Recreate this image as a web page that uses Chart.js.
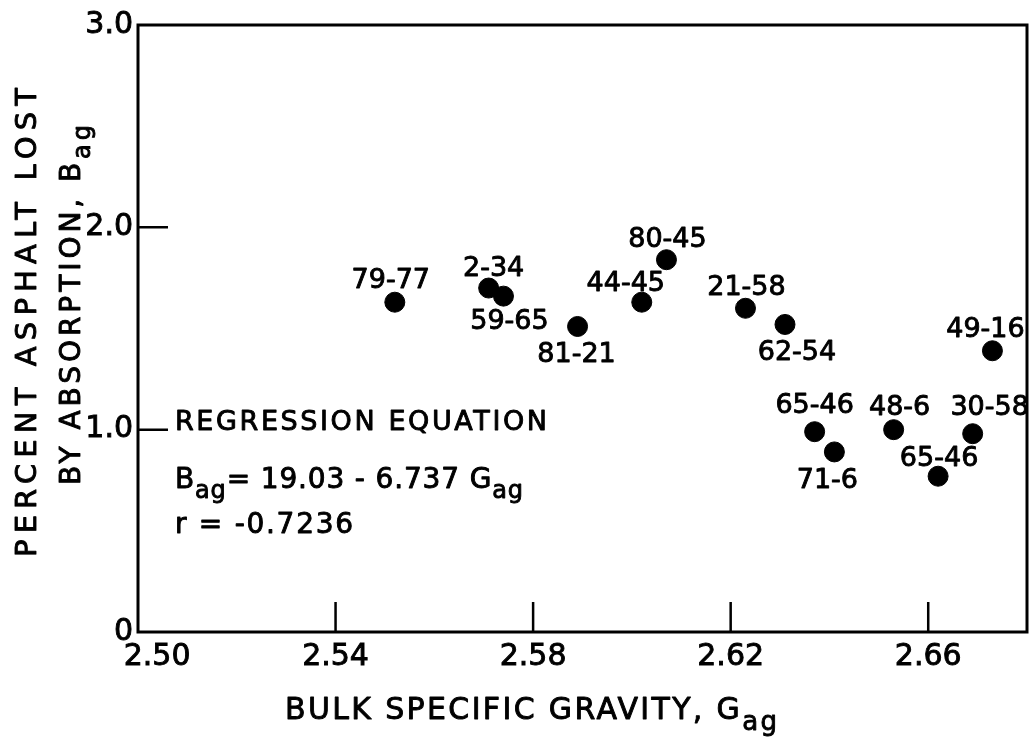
<!DOCTYPE html>
<html>
<head>
<meta charset="utf-8">
<script src="https://cdn.jsdelivr.net/npm/chart.js@4"></script>
<style>
html, body { margin: 0; padding: 0; background: #fff; overflow: hidden; }
canvas { display: block; }
</style>
</head>
<body>
<canvas id="js--chart" width="1029" height="740"></canvas>
<script>
const sampleIds = ["79-77", "2-34", "59-65", "81-21", "44-45", "80-45", "21-58", "62-54", "49-16", "65-46", "71-6", "48-6", "30-58", "65-46"];
const gravity = [2.552, 2.571, 2.574, 2.589, 2.602, 2.607, 2.623, 2.631, 2.673, 2.637, 2.641, 2.653, 2.669, 2.662];
const absorption = [1.63, 1.70, 1.66, 1.51, 1.63, 1.84, 1.60, 1.52, 1.39, 0.99, 0.89, 1.00, 0.98, 0.77];
const xTicks = [2.50, 2.54, 2.58, 2.62, 2.66];
const yTicks = [0, 1, 2, 3];

// where each sample id sits relative to its dot (px)
const labelShift = [[-4, -24], [5, -22], [6, 23], [-1, 26], [-16, -21], [1, -23], [1, -23], [12, 26], [-7, -24], [0, -29], [-7, 26], [6, -25], [17, -29], [1, -20]];

const FONT = '"DejaVu Sans", sans-serif';

// text with subscript parts, stretched to a given width
function rich(ctx, parts, x, y, size, width) {
    const subSize = Math.round(size * 0.85);
    const fontOf = sub => (sub ? subSize : size) + 'px ' + FONT;
    ctx.letterSpacing = '0px';
    let natural = 0, chars = 0;
    parts.forEach(([t, sub]) => {
        ctx.font = fontOf(sub);
        natural += ctx.measureText(t).width;
        chars += t.length;
    });
    const gap = width ? (width - natural) / (chars - 1) : 0;
    let cx = x;
    parts.forEach(([t, sub]) => {
        ctx.font = fontOf(sub);
        ctx.letterSpacing = '0px';
        const w = ctx.measureText(t).width;
        ctx.letterSpacing = gap + 'px';
        const ty = sub ? y + size * 0.35 : y;
        ctx.fillText(t, cx, ty);
        ctx.strokeText(t, cx, ty);
        cx += w + gap * t.length;
    });
    ctx.letterSpacing = '0px';
}

const extras = {
    id: 'extras',
    afterDraw(chart) {
        const ctx = chart.ctx;
        const a = chart.chartArea;
        const xs = chart.scales.x, ys = chart.scales.y;
        ctx.save();
        ctx.strokeStyle = '#000';
        ctx.fillStyle = '#000';
        ctx.lineWidth = 3;
        ctx.strokeRect(a.left, a.top, a.right - a.left, a.bottom - a.top);

        // ticks point inwards
        ctx.lineWidth = 2.5;
        ctx.beginPath();
        xTicks.forEach(v => {
            if (v <= xs.min || v >= xs.max) return;
            const px = xs.getPixelForValue(v);
            ctx.moveTo(px, a.bottom);
            ctx.lineTo(px, a.bottom - 30);
        });
        yTicks.forEach(v => {
            if (v <= ys.min || v >= ys.max) return;
            const py = ys.getPixelForValue(v);
            ctx.moveTo(a.left, py);
            ctx.lineTo(a.left + 30, py);
        });
        ctx.stroke();

        // sample ids
        ctx.lineWidth = 0.9;
        ctx.lineJoin = 'round';
        ctx.font = '27px ' + FONT;
        ctx.textAlign = 'center';
        ctx.textBaseline = 'alphabetic';
        chart.getDatasetMeta(0).data.forEach((p, i) => {
            const tx = p.x + labelShift[i][0];
            const ty = p.y + labelShift[i][1] + 27 * 0.365;
            ctx.fillText(sampleIds[i], tx, ty);
            ctx.strokeText(sampleIds[i], tx, ty);
        });
        ctx.textAlign = 'left';

        // axis titles
        rich(ctx, [['BULK SPECIFIC GRAVITY, G'], ['ag', 1]], 285, 719, 30, 492);
        ctx.save();
        ctx.translate(36, 557);
        ctx.rotate(-Math.PI / 2);
        rich(ctx, [['PERCENT ASPHALT LOST']], 0, 0, 29, 469);
        ctx.restore();
        ctx.save();
        ctx.translate(80, 485);
        ctx.rotate(-Math.PI / 2);
        rich(ctx, [['BY ABSORPTION, B'], ['ag', 1]], 0, 0, 28, 360);
        ctx.restore();

        // regression note
        rich(ctx, [['REGRESSION EQUATION']], 175, 430, 27, 372);
        rich(ctx, [['B'], ['ag', 1], ['= 19.03 - 6.737 G'], ['ag', 1]], 175, 488, 28, 348);
        rich(ctx, [['r = -0.7236']], 175, 533, 28, 178);
        ctx.restore();
    }
};

const points = gravity.map(function (g, i) {
    return { x: g, y: absorption[i] };
});

const tickFont = { family: FONT, size: 30 };

const config = {
    type: 'scatter',
    data: {
        datasets: [{
            data: points,
            backgroundColor: '#000',
            borderColor: '#000',
            pointRadius: 10,
            pointHoverRadius: 10
        }]
    },
    options: {
        responsive: false,
        animation: false,
        events: [],
        layout: { autoPadding: false, padding: { left: 0, top: 25, right: 2, bottom: 0 } },
        plugins: { legend: { display: false }, tooltip: { enabled: false } },
        scales: {
            x: {
                type: 'linear',
                min: 2.50,
                max: 2.68,
                grid: { display: false, drawTicks: false },
                border: { display: false },
                afterBuildTicks: s => { s.ticks = xTicks.map(v => ({ value: v })); },
                afterFit: s => { s.height = 108; s.paddingLeft = 0; s.paddingRight = 0; },
                ticks: {
                    autoSkip: false,
                    maxRotation: 0,
                    padding: 7,
                    color: '#000',
                    textStrokeColor: '#000',
                    textStrokeWidth: 0.9,
                    font: tickFont,
                    callback: v => (v === 2.5 ? '\u2007\u2007' : '') + v.toFixed(2)
                }
            },
            y: {
                type: 'linear',
                min: 0,
                max: 3,
                grid: { display: false, drawTicks: false },
                border: { display: false },
                afterBuildTicks: s => { s.ticks = yTicks.map(v => ({ value: v })); },
                afterFit: s => { s.width = 138; s.paddingTop = 0; s.paddingBottom = 0; },
                ticks: {
                    padding: 5,
                    color: '#000',
                    textStrokeColor: '#000',
                    textStrokeWidth: 0.9,
                    font: tickFont,
                    callback: v => (v === 0 ? '0' : v.toFixed(1))
                }
            }
        }
    },
    plugins: [extras]
};

new Chart(document.getElementById("js--chart"), config);
</script>
</body>
</html>
